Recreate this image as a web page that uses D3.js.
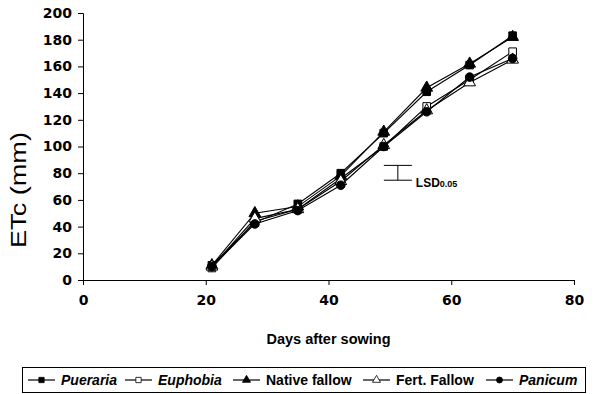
<!DOCTYPE html>
<html>
<head>
<meta charset="utf-8">
<script src="https://cdn.jsdelivr.net/npm/d3@7/dist/d3.min.js"></script>
<style>
  body { margin: 0; background: #fff; }
  text { font-family: "Liberation Sans", Arial, sans-serif; }
</style>
</head>
<body>
<svg id="chart" width="602" height="394"></svg>
<script>
// data
var days = [21, 28, 35, 42, 49, 56, 63, 70];
var pueraria = [11, 43, 57, 80, 110, 141, 161, 183];
var euphobia = [9, 44, 53, 76, 100, 130, 150, 171];
var nativeFallow = [11, 50, 55, 78, 111, 144, 162, 182];
var fertFallow = [10, 46, 53, 74, 101, 127, 148, 165];
var panicum = [10, 42, 52, 71, 100, 126, 152, 166];
var seriesNames = ["Pueraria", "Euphobia", "Native fallow", "Fert. Fallow", "Panicum"];
var xTicks = [0, 20, 40, 60, 80];
var yTicks = [0, 20, 40, 60, 80, 100, 120, 140, 160, 180, 200];
var lsdDay = 51.3, lsdMid = 80.3, lsdValue = 11.1;

var series = [
  {name: seriesNames[0], values: pueraria, shape: "square", fill: "#000", italic: true},
  {name: seriesNames[1], values: euphobia, shape: "square", fill: "#fff", italic: true},
  {name: seriesNames[2], values: nativeFallow, shape: "triangle", fill: "#000", italic: false},
  {name: seriesNames[3], values: fertFallow, shape: "triangle", fill: "#fff", italic: false},
  {name: seriesNames[4], values: panicum, shape: "circle", fill: "#000", italic: true}
];

var svg = d3.select("#chart");
var margin = {left: 83, top: 13, right: 28, bottom: 114};
var w = 602 - margin.left - margin.right;
var h = 394 - margin.top - margin.bottom;

var x = d3.scaleLinear().domain([0, 80]).range([0, w]);
var y = d3.scaleLinear().domain([0, 200]).range([h, 0]);

var g = svg.append("g").attr("transform", "translate(" + margin.left + "," + margin.top + ")");

// axes
var xAxis = g.append("g").attr("transform", "translate(0," + h + ")")
  .call(d3.axisBottom(x).tickValues(xTicks).tickSize(5).tickPadding(10));
var yAxis = g.append("g")
  .call(d3.axisLeft(y).tickValues(yTicks).tickSize(5).tickPadding(6));
[xAxis, yAxis].forEach(function(a) {
  a.selectAll("path, line").attr("stroke", "#000").attr("stroke-width", 1);
  a.selectAll("text").attr("fill", "#000")
    .style("font-family", "'DejaVu Sans', sans-serif")
    .style("font-weight", "bold").style("font-size", "14px");
});

function symbolFor(shape, size) {
  var type = shape == "square" ? d3.symbolSquare : shape == "triangle" ? d3.symbolTriangle : d3.symbolCircle;
  return d3.symbol().type(type).size(size)();
}

var line = d3.line().x(function(d) { return x(d[0]); }).y(function(d) { return y(d[1]); });

series.forEach(function(s) {
  var pts = days.map(function(d, i) { return [d, s.values[i]]; });
  g.append("path").datum(pts)
    .attr("d", line)
    .attr("fill", "none")
    .attr("stroke", "#000")
    .attr("stroke-width", 1.1);
  g.selectAll(null).data(pts).join("path")
    .attr("transform", function(d) { return "translate(" + x(d[0]) + "," + y(d[1]) + ")"; })
    .attr("d", symbolFor(s.shape, s.shape == "triangle" ? 60 : 58))
    .attr("fill", s.fill)
    .attr("stroke", "#000")
    .attr("stroke-width", 1);
});

// LSD bar
var lx = x(lsdDay), ly1 = y(lsdMid - lsdValue / 2), ly2 = y(lsdMid + lsdValue / 2);
g.append("line").attr("x1", lx).attr("x2", lx).attr("y1", ly1).attr("y2", ly2).attr("stroke", "#000");
g.append("line").attr("x1", lx - 14).attr("x2", lx + 14).attr("y1", ly1).attr("y2", ly1).attr("stroke", "#000");
g.append("line").attr("x1", lx - 14).attr("x2", lx + 14).attr("y1", ly2).attr("y2", ly2).attr("stroke", "#000");
var lsdText = g.append("text").attr("x", lx + 18).attr("y", ly1 + 6.5)
  .style("font-weight", "bold").style("font-size", "12px");
lsdText.append("tspan").text("LSD");
lsdText.append("tspan").style("font-size", "9px").text("0.05");

// axis titles
svg.append("text").attr("x", margin.left + x(40)).attr("y", 344)
  .attr("text-anchor", "middle").style("font-weight", "bold").style("font-size", "14.5px")
  .text("Days after sowing");
svg.append("text").attr("transform", "translate(26,190) rotate(-90)")
  .attr("text-anchor", "middle").style("font-size", "22px")
  .attr("textLength", 116).attr("lengthAdjust", "spacingAndGlyphs")
  .text("ETc (mm)");

// legend
var legend = svg.append("g");
legend.append("rect").attr("x", 22.5).attr("y", 367.5).attr("width", 563).attr("height", 25)
  .attr("fill", "#fff").attr("stroke", "#000").attr("stroke-width", 1);
var legendX = [28, 125, 233, 363, 486];
series.forEach(function(s, i) {
  var lg = legend.append("g").attr("transform", "translate(" + legendX[i] + ",380)");
  lg.append("line").attr("x1", 0).attr("x2", 27).attr("stroke", "#000").attr("stroke-width", 1.2);
  lg.append("path").attr("transform", "translate(13.5,0)")
    .attr("d", symbolFor(s.shape, 28))
    .attr("fill", s.fill).attr("stroke", "#000").attr("stroke-width", 0.8);
  lg.append("text").attr("x", 33).attr("y", 5)
    .style("font-weight", "bold").style("font-size", "14px")
    .style("font-style", s.italic ? "italic" : "normal")
    .text(s.name);
});
</script>
</body>
</html>
